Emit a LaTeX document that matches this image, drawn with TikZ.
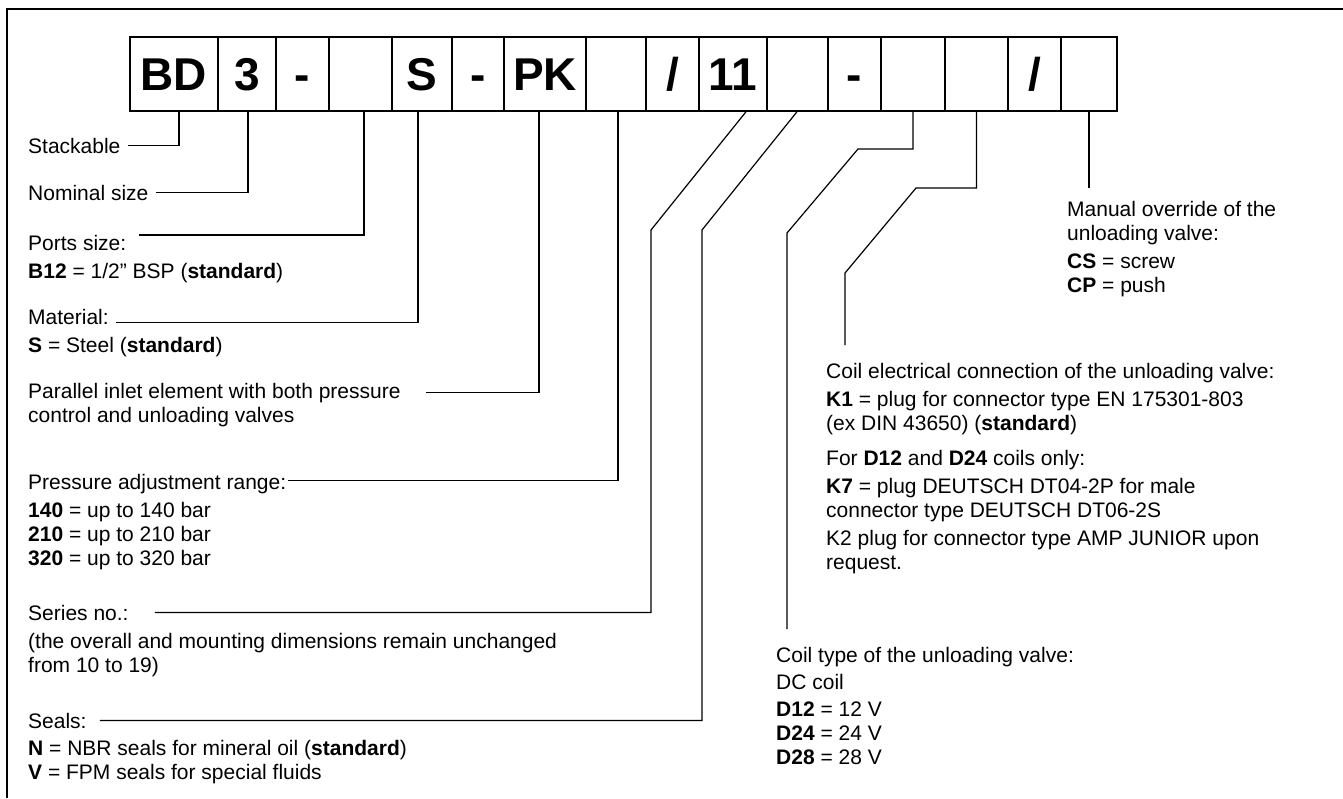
\documentclass[tikz,border=0pt]{standalone}
\usepackage{fontspec}
\setmainfont{Liberation Sans}
\newcommand\codesl{/}
\tikzset{
  codebox/.style={draw,line width=1.5pt,minimum height=74pt,inner sep=0pt,
                  text height=33pt,text depth=0pt,font=\fontsize{46}{50}\selectfont\bfseries},
  lbl/.style={anchor=base west,inner sep=0pt,align=left,font=\fontsize{21}{24}\selectfont},
  lead/.style={line width=1.2pt,line join=miter},
}
\begin{document}
\begin{tikzpicture}[x=1pt,y=-1pt]
  \useasboundingbox (0,0) rectangle (1343,798);
  % frame (open at right and bottom)
  \draw[line width=2pt] (7,798) -- (7,9) -- (1343,9);

  % ordering code
  \foreach \l/\r/\t [count=\i] in {130/218/BD, 218/276/3, 276/329/-, 329/392/, 392/452/S, 452/504/-,
      504/586/PK, 586/646/, 646/699/\codesl, 699/767/11, 767/828/, 828/881/-, 881/945/, 945/1008/,
      1008/1061/\codesl, 1061/1117/}
    \node[codebox,minimum width=\r-\l] (c\i) at ({(\l+\r)/2},74) {\t};

  % left column (multi-line nodes sit on their last line)
  \node[lbl] (stk) at (28,153) {Stackable};
  \node[lbl] (nom) at (28,200) {Nominal size};
  \node[lbl] (port) at (28,250) {Ports size:};
  \node[lbl] (portb) at (28,278) {\textbf{B12} = 1/2” BSP (\textbf{standard})};
  \node[lbl] (mat) at (28,324) {Material:};
  \node[lbl] (matb) at (28,352) {\textbf{S} = Steel (\textbf{standard})};
  \node[lbl] (par) at (28,398) {Parallel inlet element with both pressure};
  \node[lbl] (parb) at (28,422) {control and unloading valves};
  \node[lbl] (prs) at (28,489) {Pressure adjustment range:};
  \node[lbl] (prsb) at (28,565) {\textbf{140} = up to 140 bar\\\textbf{210} = up to 210 bar\\\textbf{320} = up to 320 bar};
  \node[lbl] (ser) at (28,620) {Series no.:};
  \node[lbl] (serb) at (28,672) {(the overall and mounting dimensions remain unchanged\\from 10 to 19)};
  \node[lbl] (seal) at (28,728) {Seals:};
  \node[lbl] (sealb) at (28,779) {\textbf{N} = NBR seals for mineral oil (\textbf{standard})\\\textbf{V} = FPM seals for special fluids};

  % right column
  \node[lbl] (man) at (1067,292) {Manual override of the\\unloading valve:\\[4pt]\textbf{CS} = screw\\\textbf{CP} = push};
  \node[lbl] (con) at (826,569) {Coil electrical connection of the unloading valve:\\[4pt]
    \textbf{K1} = plug for connector type EN 175301-803\\(ex DIN 43650) (\textbf{standard})\\[11pt]
    For \textbf{D12} and \textbf{D24} coils only:\\[4pt]
    \textbf{K7} = plug DEUTSCH DT04-2P for male\\connector type DEUTSCH DT06-2S\\[4pt]
    K2 plug for connector type AMP JUNIOR upon\\request.};
  \node[lbl] (typ) at (776,764) {Coil type of the unloading valve:\\[3pt]DC coil\\[3pt]
    \textbf{D12} = 12 V\\\textbf{D24} = 24 V\\\textbf{D28} = 28 V};

  % leaders
  \draw[lead] (c1.south -| 179,0) |- ([xshift=7pt]stk.east);
  \draw[lead] (c2.south -| 248,0) |- ([xshift=7pt]nom.east);
  \draw[lead] (c4.south -| 364,0) |- ([xshift=13pt,yshift=7.5pt]port.east);
  \draw[lead] (c5.south -| 418,0) |- ([xshift=7pt,yshift=-6pt]mat.east);
  \draw[lead] (c7.south -| 539,0) |- ([xshift=25pt]par.east);
  \draw[lead] (c8.south -| 618,0) |- ([xshift=2pt,yshift=3pt]prs.east);
  \draw[lead] (c10.south -| 746,0) -- (651,230) |- ([xshift=26pt]ser.east);
  \draw[lead] (c11.south -| 797,0) -- (702,230) |- ([xshift=13pt]seal.east);
  \draw[lead] (c13.south) |- (858,149) -- (787,233) -- (787,629);
  \draw[lead] (c14.south) |- (916,188) -- (845,273) -- (845,345);
  \draw[lead] (c16.south) -- ++(0,76);
\end{tikzpicture}
\end{document}
